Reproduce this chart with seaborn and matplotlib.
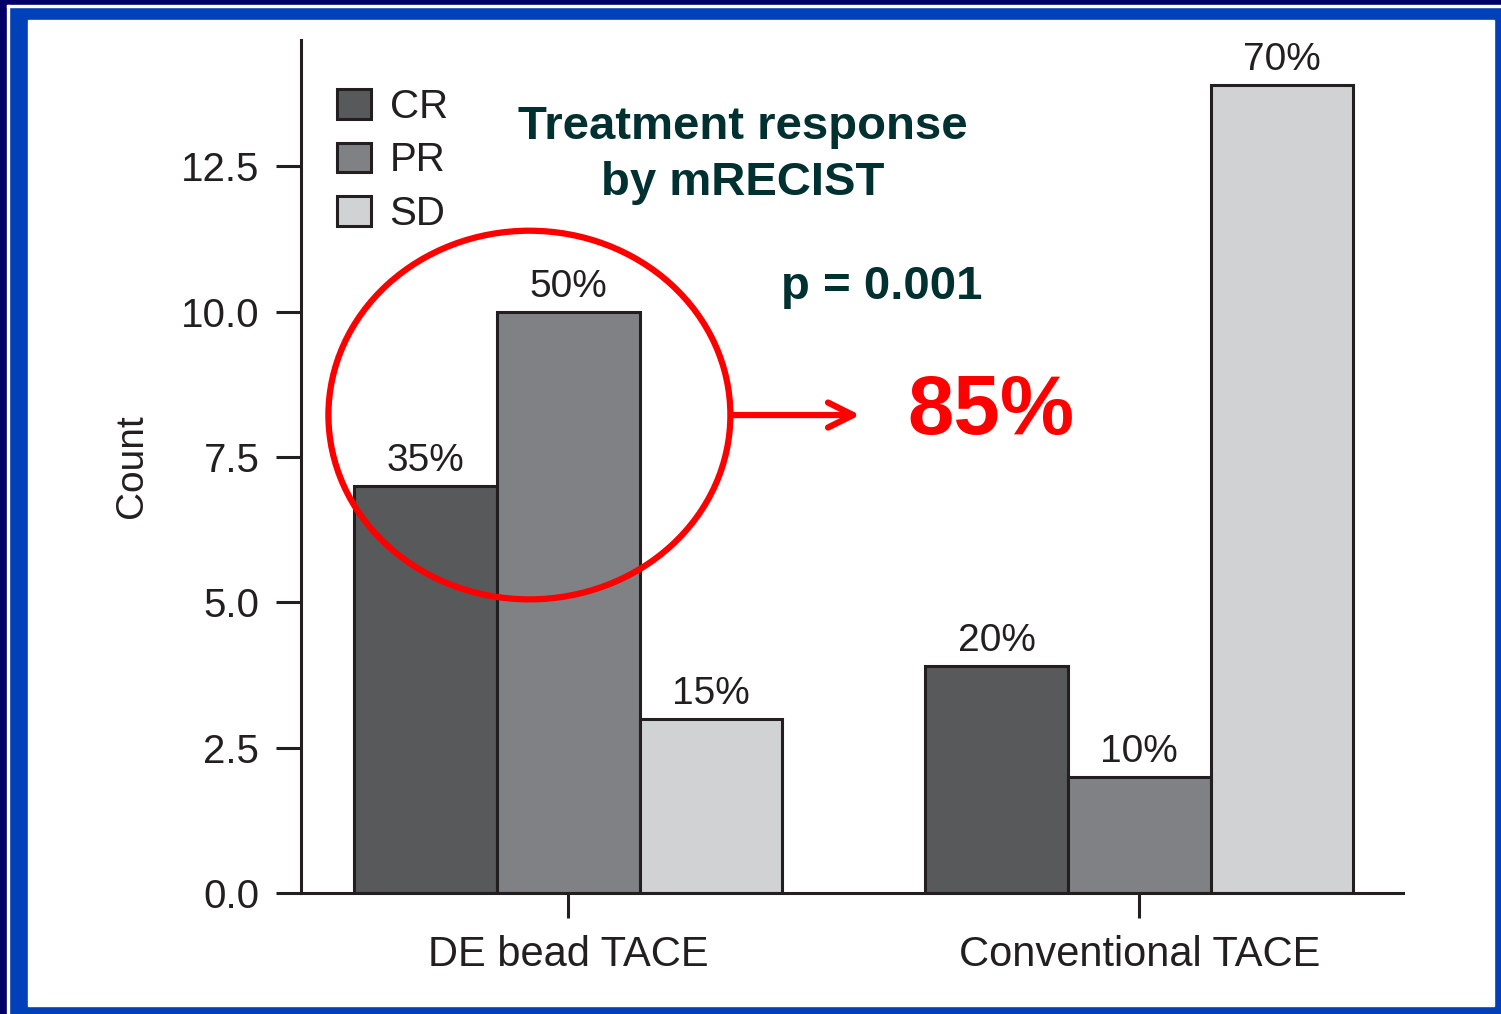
import pandas as pd
import numpy as np
import seaborn as sns
import matplotlib.pyplot as plt
import matplotlib.patches as mpatches

# data
groups = ['DE bead TACE', 'Conventional TACE']
responses = ['CR', 'PR', 'SD']
de_bead = [7, 10, 3]
conventional = [3.9, 2, 13.9]
pct_labels = {'CR': ['35%', '20%'], 'PR': ['50%', '10%'], 'SD': ['15%', '70%']}
yticks = [0.0, 2.5, 5.0, 7.5, 10.0, 12.5]

df = pd.DataFrame({
    'group': np.repeat(groups, 3),
    'response': responses * 2,
    'count': de_bead + conventional,
})

sns.set_style('white')
plt.rcParams['font.family'] = ['Liberation Sans', 'DejaVu Sans']

ink = '#231F20'
W, H = 1501, 1014
fig = plt.figure(figsize=(W / 100, H / 100), dpi=100)

# slide frame
fig.patch.set_facecolor('#0040B8')
def px_rect(x0, y0, x1, y1, color):
    fig.patches.append(mpatches.Rectangle((x0 / W, 1 - y1 / H), (x1 - x0) / W, (y1 - y0) / H,
                                          transform=fig.transFigure, color=color, zorder=-10))
px_rect(0, 0, 7, H, '#000066')
px_rect(0, 0, W, 5, '#000066')
px_rect(7, 5, 9, H, 'white')
px_rect(7, 5, W, 7, 'white')
px_rect(28, 20, 1494, 1006, 'white')

ax = fig.add_axes([301 / W, 1 - 893 / H, (1403 - 301) / W, (893 - 40) / H])
ax.set_facecolor('none')

sns.barplot(data=df, x='group', y='count', hue='response', ax=ax,
            palette=['#58595B', '#808184', '#D1D2D4'], saturation=1,
            width=0.75, edgecolor=ink, linewidth=2.2, errorbar=None)

for cont, resp in zip(ax.containers, responses):
    ax.bar_label(cont, labels=pct_labels[resp], padding=5, fontsize=28, color=ink)

ax.set_xlim(-0.468, 1.462)
ax.set_ylim(0, 14.67)
ax.set_yticks(yticks)
ax.set_yticklabels(['%.1f' % t for t in yticks])
ax.set_xlabel('')
ax.set_ylabel('Count', fontsize=28, color=ink, labelpad=22)
ax.tick_params(axis='both', direction='out', length=18, width=2.2, color=ink,
               labelcolor=ink, left=True, bottom=True)
ax.tick_params(axis='y', labelsize=29, pad=12)
ax.tick_params(axis='x', labelsize=30, pad=12)
sns.despine(ax=ax)
for s in ['left', 'bottom']:
    ax.spines[s].set_linewidth(2.2)
    ax.spines[s].set_color(ink)

handles, labels = ax.get_legend_handles_labels()
ax.legend(handles, labels, loc='upper left', bbox_to_anchor=(0.0, 0.986), frameon=False,
          fontsize=29, handlelength=0.85, handleheight=0.75, handletextpad=0.45,
          labelspacing=0.38, labelcolor=ink)

# annotations
fig.text(743 / W, 1 - 155 / H, 'Treatment response\nby mRECIST', ha='center', va='center',
         fontsize=34, fontweight='bold', color='#003030', linespacing=1.38)
fig.text(882 / W, 1 - 287 / H, 'p = 0.001', ha='center', va='center',
         fontsize=34, fontweight='bold', color='#003030')
fig.text(991 / W, 1 - 412 / H, '85%', ha='center', va='center',
         fontsize=60, fontweight='bold', color='#FF0000')

ax.add_patch(mpatches.Ellipse((-0.068, 8.22), 0.704, 6.34, fill=False, edgecolor='#FF0000',
                              linewidth=4.5, clip_on=False, zorder=5))
ax.annotate('', xy=(0.511, 8.22), xytext=(0.287, 8.22),
            arrowprops=dict(arrowstyle='->', color='#FF0000', lw=4.5, mutation_scale=45,
                            shrinkA=0, shrinkB=0), zorder=5)

fig.savefig('out.png', dpi=100)
